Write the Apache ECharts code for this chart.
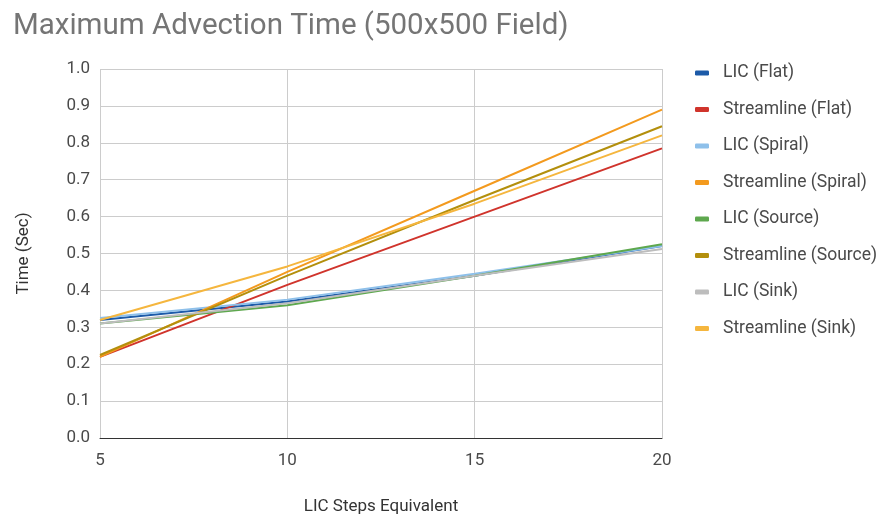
<!DOCTYPE html>
<html>
<head>
<meta charset="utf-8">
<script src="https://cdn.jsdelivr.net/npm/echarts@6/dist/echarts.min.js"></script>
<style>
  html, body { margin: 0; padding: 0; background: #fff; }
  #chart { width: 883px; height: 523px; }
</style>
</head>
<body>
<div id="chart"></div>
<script>
// LIC step counts on the x axis
var steps = [5, 10, 15, 20];

// Maximum advection time (seconds) per method and field
var licFlat = [0.32, 0.37, 0.44, 0.52];
var streamFlat = [0.22, 0.415, 0.60, 0.785];
var licSpiral = [0.325, 0.375, 0.445, 0.52];
var streamSpiral = [0.22, 0.45, 0.67, 0.89];
var licSource = [0.31, 0.36, 0.44, 0.525];
var streamSource = [0.225, 0.44, 0.645, 0.845];
var licSink = [0.31, 0.365, 0.44, 0.512];
var streamSink = [0.32, 0.465, 0.635, 0.82];

var seriesNames = [
  'LIC (Flat)', 'Streamline (Flat)', 'LIC (Spiral)', 'Streamline (Spiral)',
  'LIC (Source)', 'Streamline (Source)', 'LIC (Sink)', 'Streamline (Sink)'
];
var seriesValues = [licFlat, streamFlat, licSpiral, streamSpiral,
                    licSource, streamSource, licSink, streamSink];
var colors = ['#1c5aa8', '#d0342c', '#8ec0ea', '#f39a1e',
              '#5ea84e', '#b38f0c', '#bdbdbd', '#f5b63e'];

var chart = echarts.init(document.getElementById('chart'), null, { renderer: 'canvas' });

var series = seriesNames.map(function (name, i) {
  return {
    name: name,
    type: 'line',
    data: steps.map(function (s, j) { return [s, seriesValues[i][j]]; }),
    showSymbol: false,
    lineStyle: { width: 2, color: colors[i] },
    itemStyle: { color: colors[i] },
    z: 2 + i
  };
});

chart.setOption({
  animation: false,
  backgroundColor: '#ffffff',
  textStyle: { fontFamily: 'Roboto, sans-serif' },
  title: {
    text: 'Maximum Advection Time (500x500 Field)',
    left: 8,
    top: 7,
    textStyle: { fontSize: 29.5, fontWeight: 'normal', color: '#757575', fontFamily: 'Roboto' }
  },
  legend: {
    orient: 'vertical',
    left: 690,
    top: 59,
    itemGap: 18.5,
    itemWidth: 14,
    itemHeight: 5,
    icon: 'roundRect',
    data: seriesNames,
    textStyle: { fontSize: 17.5, lineHeight: 18, color: '#4a4a4a', padding: [0, 0, 0, 9] }
  },
  grid: { left: 100, right: 221, top: 69, bottom: 85, containLabel: false },
  xAxis: {
    type: 'value',
    min: 5,
    max: 20,
    interval: 5,
    name: 'LIC Steps Equivalent',
    nameLocation: 'middle',
    nameGap: 60,
    nameTextStyle: { fontSize: 17, color: '#333' },
    axisLine: { show: true, lineStyle: { color: '#333', width: 1 } },
    axisTick: { show: false },
    axisLabel: { fontSize: 17, color: '#4a4a4a', margin: 14 },
    splitLine: { show: true, lineStyle: { color: '#cccccc', width: 1 } }
  },
  yAxis: {
    type: 'value',
    min: 0,
    max: 1,
    interval: 0.1,
    name: 'Time (Sec)',
    nameLocation: 'middle',
    nameGap: 68,
    nameRotate: 90,
    nameTextStyle: { fontSize: 17, color: '#333' },
    axisLine: { show: false },
    axisTick: { show: false },
    axisLabel: {
      fontSize: 17, color: '#4a4a4a', margin: 10,
      formatter: function (v) { return v.toFixed(1); }
    },
    splitLine: { show: true, lineStyle: { color: '#cccccc', width: 1 } }
  },
  series: series
});
</script>
</body>
</html>
